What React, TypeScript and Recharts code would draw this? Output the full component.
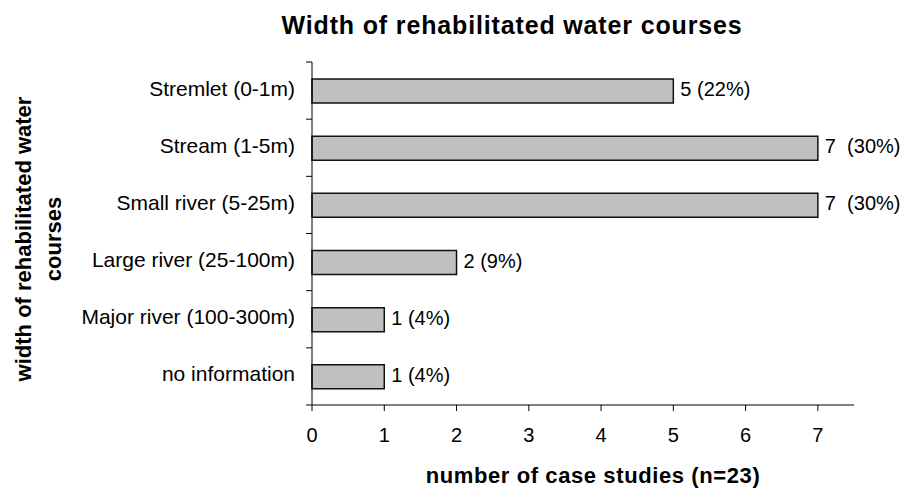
import React from "react";
import { BarChart, Bar, XAxis, YAxis, LabelList } from "recharts";

const categories = [
  "Stremlet (0-1m)",
  "Stream (1-5m)",
  "Small river (5-25m)",
  "Large river (25-100m)",
  "Major river (100-300m)",
  "no information",
];
const counts = [5, 7, 7, 2, 1, 1];
const valueLabels = ["5 (22%)", "7  (30%)", "7  (30%)", "2 (9%)", "1 (4%)", "1 (4%)"];
const xTicks = [0, 1, 2, 3, 4, 5, 6, 7];

const FONT = "'Liberation Sans', Arial, sans-serif";
const CAT_MARGIN = 17;

const data = categories.map((name, i) => ({ name, count: counts[i], label: valueLabels[i] }));

// label at the band centre, tick marks on the band edges (Excel style)
function CategoryTick({ x, y, payload, index }: any) {
  const axisX = x + CAT_MARGIN;
  const half = payload?.offset ?? 0;
  const last = index === categories.length - 1;
  return (
    <g>
      {half > 0 && <line x1={axisX - 6} x2={axisX} y1={y - half} y2={y - half} stroke="#000" />}
      {half > 0 && last && <line x1={axisX - 6} x2={axisX} y1={y + half} y2={y + half} stroke="#000" />}
      <text x={x} y={y + 5} textAnchor="end" fontSize={21} fontFamily={FONT} fill="#000">
        {payload.value}
      </text>
    </g>
  );
}

function ValueLabel({ x, y, width, height, value }: any) {
  return (
    <text
      x={x + width + 7}
      y={y + height / 2 + 5}
      fontSize={20}
      fontFamily={FONT}
      fill="#000"
      style={{ whiteSpace: "pre" }}
    >
      {value}
    </text>
  );
}

export default function App() {
  return (
    <div style={{ position: "relative", width: 910, height: 489, background: "#fff" }}>
      <style>{"body{margin:0}"}</style>
      <BarChart
        width={910}
        height={489}
        data={data}
        layout="vertical"
        margin={{ top: 62, right: 56, left: 0, bottom: 0 }}
        barSize={24}
      >
        <XAxis
          type="number"
          domain={[0, 7.5]}
          ticks={xTicks}
          height={84}
          stroke="#000"
          tickSize={6}
          tickMargin={17}
          tick={{ fontSize: 20, fontFamily: FONT, fill: "#000" }}
          interval={0}
        />
        <YAxis
          type="category"
          dataKey="name"
          width={312}
          stroke="#000"
          tickLine={false}
          tickSize={0}
          tickMargin={CAT_MARGIN}
          tick={<CategoryTick />}
          interval={0}
        />
        <Bar dataKey="count" fill="#C0C0C0" stroke="#111" strokeWidth={1.5} isAnimationActive={false}>
          <LabelList dataKey="label" content={<ValueLabel />} />
        </Bar>
      </BarChart>
      <svg
        width={910}
        height={489}
        style={{ position: "absolute", left: 0, top: 0, pointerEvents: "none" }}
      >
        <text
          x={512}
          y={34}
          textAnchor="middle"
          fontSize={25}
          fontWeight="bold"
          fontFamily={FONT}
          letterSpacing={0.85}
        >
          Width of rehabilitated water courses
        </text>
        <text
          x={593}
          y={483}
          textAnchor="middle"
          fontSize={22}
          fontWeight="bold"
          fontFamily={FONT}
          letterSpacing={0.6}
        >
          number of case studies (n=23)
        </text>
        <g transform="translate(0,239) rotate(-90)" fontSize={22} fontWeight="bold" fontFamily={FONT}>
          <text x={0} y={30.7} textAnchor="middle">
            width of rehabilitated water
          </text>
          <text x={0} y={60.5} textAnchor="middle">
            courses
          </text>
        </g>
      </svg>
    </div>
  );
}
